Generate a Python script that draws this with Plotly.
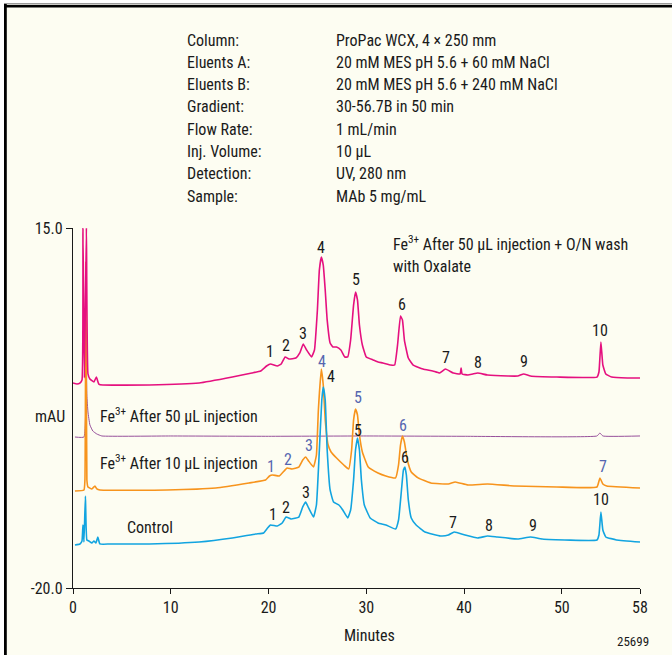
import plotly.graph_objects as go

# ---------------------------------------------------------------- data
# Retention time (min) and absorbance (mAU) for each run
oxalate_t = [0.0, 0.41, 0.71, 0.92, 1.02, 1.17, 1.37, 1.53, 1.73, 2.14, 2.39, 2.64, 3.05, 7.8, 12.9,
             16.3, 18.3, 19.2, 19.8, 20.2, 20.9, 21.3, 21.7, 22.1, 22.8, 23.2, 23.55, 23.9, 24.4, 24.7,
             25.0, 25.2, 25.4, 25.6, 25.8, 26.0, 26.3, 26.6, 26.96, 27.4, 27.8, 28.1, 28.4, 28.7, 28.9,
             29.1, 29.3, 29.6, 30.0, 30.7, 31.2, 31.7, 32.5, 32.9, 33.2, 33.5, 33.7, 33.9, 34.3, 34.8,
             35.8, 36.8, 37.5, 38.1, 38.9, 39.6, 39.7, 39.8, 40.4, 40.9, 41.4, 42.4, 44.5, 45.5, 46.1,
             46.8, 49.5, 53.6, 53.8, 54.0, 54.2, 54.5, 55.1, 56.7, 58.0]
oxalate_mau = [-0.07, -0.17, -0.07, 0.22, 15.0, 0.42, 15.0, 0.81, 0.32, 0.03, 0.51, -0.17, -0.26, -0.26, -0.07,
               0.51, 0.9, 1.1, 1.58, 1.78, 1.58, 1.78, 2.46, 2.26, 2.36, 2.85, 3.72, 3.14, 2.46, 3.14,
               7.03, 10.9, 12.18, 11.4, 8.97, 6.06, 3.82, 3.43, 3.43, 3.14, 2.46, 2.46, 4.11, 7.51, 8.78,
               8.0, 5.57, 3.63, 2.46, 2.17, 1.97, 1.88, 1.68, 1.68, 3.63, 6.44, 6.06, 4.11, 2.36, 1.68,
               1.29, 1.10, 0.90, 1.29, 0.90, 0.81, 1.39, 0.81, 0.71, 0.81, 0.90, 0.71, 0.61, 0.61, 0.81,
               0.61, 0.51, 0.51, 1.0, 3.92, 1.68, 0.81, 0.51, 0.42, 0.42]

inj50_t = [0.2, 1.12, 1.32, 1.42, 1.53, 1.73, 2.03, 2.44, 2.95, 10.0, 20.0, 30.0, 40.0, 53.6, 53.9, 54.2, 58.0]
inj50_mau = [-5.32, -5.32, 6.0, -1.24, -2.89, -4.15, -4.74, -5.03, -5.22, -5.22, -5.25, -5.22, -5.25,
             -5.22, -4.93, -5.22, -5.22]

inj10_t = [0.2, 1.12, 1.22, 1.32, 1.42, 1.53, 1.93, 2.24, 2.44, 2.75, 9.6, 14.6, 18.0, 19.7, 20.1,
           20.4, 21.1, 21.6, 21.9, 22.4, 23.1, 23.5, 23.8, 24.1, 24.6, 24.9, 25.1, 25.4, 25.6, 25.8,
           26.1, 26.4, 26.96, 27.7, 28.2, 28.5, 28.7, 28.9, 29.1, 29.3, 29.6, 30.2, 31.2, 32.0, 33.0,
           33.3, 33.5, 33.7, 33.9, 34.2, 34.6, 35.3, 36.6, 38.4, 39.1, 40.4, 42.4, 45.2, 49.5, 53.6,
           53.9, 54.2, 54.6, 58.0]
inj10_mau = [-10.57, -10.47, -9.5, 11.7, -9.5, -10.18, -10.37, -10.08, -10.37, -10.47, -10.47, -10.28, -9.79, -9.5, -9.11,
             -9.01, -9.11, -8.62, -8.33, -8.43, -8.24, -7.56, -7.26, -7.65, -8.24, -7.07, -2.69, 1.29, -0.26, -3.67,
             -6.1, -6.78, -7.36, -8.04, -8.43, -6.58, -3.67, -2.6, -3.18, -5.12, -6.78, -8.24, -8.82, -9.11, -9.3,
             -8.04, -6.1, -5.22, -5.8, -7.56, -8.72, -9.3, -9.79, -9.89, -9.69, -9.99, -9.89, -10.08, -10.18, -10.18,
             -9.3, -9.89, -10.08, -10.28]

control_t = [0.2, 0.71, 0.92, 1.02, 1.12, 1.27, 1.42, 1.63, 1.93, 2.14, 2.34, 2.54, 2.75, 3.76, 7.8,
             12.9, 16.3, 18.7, 19.5, 19.9, 20.2, 20.9, 21.4, 21.8, 22.3, 23.1, 23.5, 23.8, 24.1, 24.6,
             24.9, 25.2, 25.45, 25.6, 25.8, 26.0, 26.3, 26.65, 27.2, 27.6, 28.1, 28.4, 28.7, 28.9, 29.1,
             29.3, 29.5, 29.8, 30.4, 31.2, 32.0, 33.0, 33.3, 33.6, 33.8, 33.95, 34.1, 34.3, 34.6, 35.1,
             36.0, 37.6, 38.4, 39.0, 40.1, 41.4, 42.4, 43.4, 45.5, 46.8, 48.0, 53.6, 53.8, 54.0, 54.2,
             54.5, 55.6, 58.0]
control_mau = [-15.82, -15.72, -15.43, -13.87, -15.53, -11.06, -15.33, -15.43, -15.62, -15.43, -15.62, -15.04, -15.72, -15.72, -15.72,
               -15.53, -15.14, -14.75, -14.65, -14.17, -13.87, -13.97, -13.68, -13.10, -13.29, -13.10, -12.12, -11.64, -12.22, -13.10,
               -11.93, -6.58, -1.72, -0.46, -1.72, -6.58, -10.47, -11.64, -11.93, -12.42, -13.19, -12.42, -9.5, -6.58, -5.42,
               -6.58, -9.5, -11.93, -13.19, -13.68, -13.87, -14.26, -13.39, -10.47, -8.53, -8.24, -9.01, -11.44, -13.19, -13.87,
               -14.55, -14.94, -14.85, -14.55, -14.85, -15.14, -14.94, -15.04, -15.24, -15.04, -15.24, -15.33, -14.85, -12.61, -14.36,
               -15.04, -15.33, -15.53]

# Peak numbering: (label, retention time of the peak apex)
oxalate_peaks = [("1", 20.2), ("2", 21.7), ("3", 23.55), ("4", 25.4), ("5", 28.9),
                 ("6", 33.5), ("7", 38.1), ("8", 41.4), ("9", 46.1), ("10", 54.0)]
inj10_peaks = [("1", 20.4), ("2", 21.9), ("3", 23.8), ("4", 25.4), ("5", 28.9), ("6", 33.7), ("7", 53.9)]
control_peaks = [("1", 20.2), ("2", 21.8), ("3", 23.8), ("4", 25.6), ("5", 29.1),
                 ("6", 33.95), ("7", 39.0), ("8", 42.4), ("9", 46.8), ("10", 54.0)]

x_ticks = [0, 10, 20, 30, 40, 50, 58]
y_ticks = [15.0, -20.0]
y_ticktext = ["15.0", "-20.0"]

conditions = [
    ("Column:", "ProPac WCX, 4 × 250 mm"),
    ("Eluents A:", "20 mM MES pH 5.6 + 60 mM NaCl"),
    ("Eluents B:", "20 mM MES pH 5.6 + 240 mM NaCl"),
    ("Gradient:", "30-56.7B in 50 min"),
    ("Flow Rate:", "1 mL/min"),
    ("Inj. Volume:", "10 µL"),
    ("Detection:", "UV, 280 nm"),
    ("Sample:", "MAb 5 mg/mL"),
]

# ---------------------------------------------------------------- styling
W, H = 672, 655
ML, MR, MT, MB = 73, 32, 228, 67
PW, PH = W - ML - MR, H - MT - MB

FONT = "Liberation Sans Narrow, Arial Narrow, Roboto Condensed, DejaVu Sans Condensed, sans-serif"
CREAM = "#FDFDF2"
MAGENTA = "#E5107F"
ORANGE = "#F7941D"
CYAN = "#12A4E0"
PURPLE = "#97509B"
BLUE_LABEL = "#5566B0"


def paper_x(px):
    return (px - ML) / PW


def paper_y(py):
    return (H - MB - py) / PH


fig = go.Figure()
for t, v, color, width in [
    (inj50_t, inj50_mau, PURPLE, 1.0),
    (inj10_t, inj10_mau, ORANGE, 1.6),
    (control_t, control_mau, CYAN, 1.6),
    (oxalate_t, oxalate_mau, MAGENTA, 1.6),
]:
    fig.add_trace(go.Scatter(x=t, y=v, mode="lines",
                             line=dict(color=color, width=width, shape="spline", smoothing=0.35),
                             hoverinfo="skip"))

annotations = []


def peak_labels(peaks, t, v, color, shifts):
    for (label, tp), (dx, dy) in zip(peaks, shifts):
        annotations.append(dict(
            x=tp, y=v[t.index(tp)], xref="x", yref="y", text=label, showarrow=False,
            xanchor="center", yanchor="middle", xshift=dx, yshift=dy,
            font=dict(family=FONT, size=16, color=color)))


peak_labels(oxalate_peaks, oxalate_t, oxalate_mau, "#1a1a1a",
            [(0, 12), (1, 11), (0, 11), (0, 10), (0, 12), (2, 12), (1, 12), (0, 11), (0, 12), (-1, 11)])
peak_labels(inj10_peaks, inj10_t, inj10_mau, BLUE_LABEL,
            [(-1, 8), (1, 8), (3, 11), (1, 8), (2, 12), (1, 10), (3, 11)])
peak_labels(control_peaks, control_t, control_mau, "#1a1a1a",
            [(3, 10), (0, 10), (0, 10), (8, 11), (1, 8), (0, 10), (-1, 9), (1, 10), (2, 11), (0, 12)])


def text_at(px, py, text, size=16, anchor="left", color="#1a1a1a"):
    annotations.append(dict(
        x=paper_x(px), y=paper_y(py), xref="paper", yref="paper", text=text,
        showarrow=False, xanchor=anchor, yanchor="middle",
        font=dict(family=FONT, size=size, color=color)))


# chromatographic conditions block
for i, (key, val) in enumerate(conditions):
    yy = 40 + i * 22.3
    text_at(185, yy, key, size=16)
    text_at(334, yy, val, size=16)

# run labels
text_at(391, 243, "Fe<sup>3+</sup> After 50 µL injection + O/N wash")
text_at(391, 266, "with Oxalate")
text_at(98, 415, "Fe<sup>3+</sup> After 50 µL injection")
text_at(98, 462, "Fe<sup>3+</sup> After 10 µL injection")
text_at(125, 527, "Control")
text_at(33, 416, "mAU")
text_at(369, 635, "Minutes", anchor="center")
text_at(633, 641, "25699", size=13, anchor="center")

# frame: white outside, cream panel, heavy black left and top rules
shapes = [
    dict(type="rect", xref="paper", yref="paper", layer="below",
         x0=paper_x(4), x1=paper_x(W + 2), y0=paper_y(4), y1=paper_y(H + 2),
         fillcolor=CREAM, line=dict(width=0)),
    dict(type="line", xref="paper", yref="paper", x0=paper_x(4), x1=paper_x(W + 2),
         y0=paper_y(3.8), y1=paper_y(3.8), line=dict(color="#9a9a9a", width=1.5)),
    dict(type="line", xref="paper", yref="paper", x0=paper_x(4), x1=paper_x(W + 2),
         y0=paper_y(6.2), y1=paper_y(6.2), line=dict(color="#000000", width=2.6)),
    dict(type="line", xref="paper", yref="paper", x0=paper_x(5.4), x1=paper_x(5.4),
         y0=paper_y(4), y1=paper_y(H + 2), line=dict(color="#000000", width=2.8)),
]

fig.update_layout(
    width=W, height=H,
    margin=dict(l=ML, r=MR, t=MT, b=MB, pad=0),
    paper_bgcolor="#FFFFFF",
    plot_bgcolor="rgba(0,0,0,0)",
    showlegend=False,
    annotations=annotations,
    shapes=shapes,
    font=dict(family=FONT, size=16, color="#1a1a1a"),
    xaxis=dict(range=[0, 58], tickvals=x_ticks, ticks="outside", ticklen=5, tickwidth=1.2,
               tickcolor="#1a1a1a", showline=True, linecolor="#1a1a1a", linewidth=1.4,
               showgrid=False, zeroline=False, tickfont=dict(family=FONT, size=16)),
    yaxis=dict(range=[-20, 15], tickvals=y_ticks, ticktext=y_ticktext, ticks="outside",
               ticklen=6, tickwidth=1.2, tickcolor="#1a1a1a", showline=True,
               linecolor="#1a1a1a", linewidth=1.4, showgrid=False, zeroline=False,
               tickfont=dict(family=FONT, size=16)),
)

fig.write_html("out.html")
